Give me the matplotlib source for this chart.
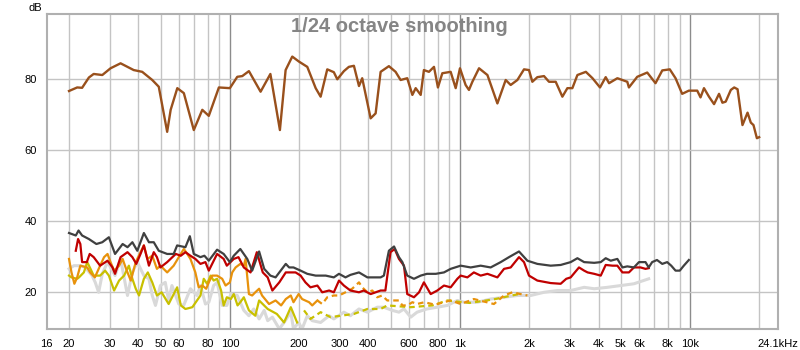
import numpy as np
import matplotlib.pyplot as plt

# 频响曲线 (1/24 倍频程平滑)
brown_f = [20, 21.7, 22.8, 24.4, 25.6, 27.9, 30.3, 33.5, 38.2, 41.6,
           46, 49.1, 53.4, 55.3, 59.1, 63.1, 69.7, 75.9, 81, 89.6,
           100, 107.7, 113.2, 121, 136, 150, 165, 174.7, 186.7, 199.5,
           217, 236, 248, 265, 283, 293, 313, 329, 346, 364,
           376, 409, 430, 452, 491, 525, 552, 590, 621, 642,
           675, 697, 733, 771, 802, 838, 911, 958, 1000, 1058,
           1094, 1132, 1210, 1316, 1454, 1580, 1661, 1776, 1898, 1995,
           2063, 2169, 2318, 2437, 2606, 2786, 2929, 3079, 3238, 3524,
           3766, 4060, 4298, 4444, 4830, 5334, 5422, 5893, 6512, 7075,
           7570, 8162, 8645, 9237, 9877, 10740, 11100, 11490, 12080, 12710,
           13360, 13820, 14280, 15030, 15550, 16080, 16890, 17770, 18360, 18860, 19510, 19960]
brown_db = [76.7, 77.7, 77.6, 80.5, 81.5, 81.2, 83.1, 84.5, 82.6, 82.1,
            79.8, 77.9, 65.2, 71.4, 77.5, 76.1, 65.7, 71.4, 69.7, 77.7,
            77.5, 80.7, 80.9, 82.3, 76.5, 81.5, 65.7, 82.6, 86.4, 85,
            83.5, 77.5, 75.1, 82.8, 82, 80, 82.3, 83.5, 83.8, 78.1,
            80.3, 69, 70.4, 82.1, 83.7, 82.1, 79.8, 80.3, 75.6, 77.5,
            75.6, 82.6, 82.1, 83.5, 77.7, 81.7, 82.1, 77.5, 83.1, 78.4,
            77, 79.3, 83.1, 81.2, 73.2, 79.8, 78.4, 79.8, 82.8, 82.6,
            79.3, 80.6, 80.9, 79.3, 79.3, 75.1, 77.5, 77.5, 81.2, 82.1,
            80.3, 77.7, 80.6, 78.9, 80.3, 79.3, 77.7, 80.7, 81.9, 78.9,
            82.5, 82.8, 80.3, 75.9, 76.8, 76.8, 74.9, 77.5, 75.1, 73,
            75.9, 73.4, 73.7, 77, 77.7, 77.2, 67.1, 70.6, 67.8, 67.1, 63.4, 63.7]

# 总失真 (深灰)
dark_f = [20, 21.4, 22.0, 22.8, 24.4, 26.3, 27.9, 29.8, 31.7, 34.2, 35.9, 37.7, 39.6, 42.3, 44.5,
          46.7, 49.1, 53.4, 57, 59, 64.1, 67, 69.7, 74.5, 77.5, 81, 88, 94, 100, 104,
          111, 119, 125, 134, 141, 150, 158, 175, 181, 189, 203, 217, 236, 261, 283,
          298, 318, 334, 364, 396, 452, 467, 491, 517, 543, 562, 590, 631, 675, 718,
          785, 852, 911, 1007, 1113, 1230, 1359, 1503, 1633, 1805, 1963, 2169, 2478, 2739, 3027,
          3238, 3464, 3830, 4090, 4298, 4520, 4830, 5082, 5334, 5700, 5995, 6400, 6610, 6840, 7180,
          7570, 7950, 8280, 8645, 9020, 9390, 9877]
dark_db = [36.7, 36.0, 37.4, 36, 35, 33.6, 34.1, 35.5, 30.8, 33.6, 32.7, 34.1, 31.7, 36.7, 34.1,
           34.1, 31.7, 30.8, 30.8, 33.2, 32.7, 35.8, 30.8, 29.9, 30.3, 28.9, 32, 30.8, 28.5, 30.3,
           32.2, 29.4, 26.1, 31.5, 26.6, 24.7, 24.2, 28, 27, 27, 26.1, 25.2, 24.7, 24.7, 24.2,
           25.2, 24.2, 24.9, 25.6, 24.2, 24.2, 24.7, 31.7, 32.9, 29.9, 28.5, 24.7, 23.8, 24.7, 25.2,
           25.2, 25.6, 26.6, 27.5, 27, 27.5, 27, 28.5, 29.9, 31.5, 28.9, 28, 27.5, 27.7, 28.5,
           29.6, 28.5, 28.3, 28.5, 29.6, 28.9, 29.4, 27, 27.3, 27, 28.5, 28.5, 27, 28.5, 29.1,
           28, 28.5, 27.5, 26.1, 26.1, 27.5, 29.1]

# 二次谐波 (红)
red_f = [21.4, 21.9, 22.4, 22.8, 23.9, 24.6, 25.6, 27.3, 29.4, 30.9, 31.7, 33.5, 35.9, 37.7, 39.2,
         40.9, 42.3, 44.5, 46.7, 48.2, 49.9, 53.4, 58.2, 61.2, 64.1, 67.4, 70.8, 74.5, 78.3, 81,
         88, 94, 97, 104, 109, 115, 123, 131, 139, 146, 153, 164, 175, 184, 193,
         203, 213, 224, 240, 252, 270, 283, 298, 313, 334, 364, 382, 409, 430, 452,
         474, 499, 520, 543, 571, 590, 631, 664, 697, 746, 797, 852, 911, 974, 1007,
         1077, 1149, 1230, 1316, 1454, 1554, 1661, 1805, 1898, 1995, 2169, 2478, 2739, 2896, 3027,
         3290, 3464, 3585, 3830, 4090, 4298, 4600, 4830, 5082, 5422, 5700, 6090, 6400, 6610]
red_db = [31.7, 35, 33.6, 28.5, 28.5, 30.8, 29.9, 27.5, 28.9, 27, 25.2, 29.9, 31.3, 29.9, 28,
          30.8, 33.2, 27.5, 31.3, 29.9, 27, 28.5, 30.8, 30.3, 31.3, 30.3, 29.4, 28, 28.5, 26.1,
          30.8, 29.4, 27.5, 29.4, 29.9, 27, 25.6, 31.3, 25.6, 24.2, 20.5, 22.8, 25.6, 25.6, 25.6,
          24.7, 22.8, 21.4, 21.9, 20, 20.5, 20, 23.3, 21.9, 20.5, 20, 20.5, 19.5, 20, 20.5,
          20.5, 31.3, 32.2, 29.4, 27.5, 19.5, 18.6, 20, 22.8, 19.5, 20.5, 21.9, 21.4, 23.8, 24.7,
          24.2, 25.6, 24.7, 25.2, 24.2, 26.6, 27, 29.9, 28.5, 24.7, 23.3, 22.6, 22.4, 23.8, 24.2,
          27, 26.1, 25.6, 25.2, 24.7, 27.7, 27.5, 27.5, 25.6, 25.6, 27, 27, 26.6, 26.8]

# 三次谐波 (橙)
orange_f = [20, 20.5, 21.1, 21.7, 22.4, 24, 24.7, 25.9, 27.3, 28.4, 29.4, 30.3, 31.4, 33, 34.2,
            35.4, 37.1, 39, 40.9, 42.3, 43.8, 46, 48.2, 49.9, 53.4, 57, 60, 63.1, 65.3, 67.4,
            70.8, 73.2, 75.9, 78.9, 81, 83.8, 88, 92.6, 95.8, 100, 102.4, 105.9, 111, 115, 117,
            121, 125, 129, 134, 138, 148, 158, 167, 175, 184, 189, 199, 206, 221, 228,
            240, 252, 265, 283, 298, 318, 340, 364, 376, 396, 416, 437, 459, 483, 517,
            543, 562, 590, 621, 651, 700, 780, 850, 911, 1007, 1149, 1404, 1554, 1690, 1834, 1963]
orange_db = [29.4, 25.6, 22.4, 24.2, 27.5, 27, 25.6, 24.2, 27.5, 29.9, 30.8, 28.5, 26.1, 27.5, 29.4,
             26.6, 23.3, 28.5, 31.3, 33.2, 29.4, 30.3, 26.6, 27.5, 25.6, 27.5, 29.9, 32.2, 30.8, 29.4,
             25.6, 21.4, 21.9, 21, 22.8, 24.7, 24.7, 23.8, 21.9, 22.8, 25.6, 27, 28, 27.5, 29.4,
             19.5, 19.1, 20, 21, 19.1, 16.7, 17.7, 16.3, 18.1, 19.1, 17.2, 19.5, 18.1, 17.2, 16.3,
             17.7, 16.7, 18.6, 19.1, 19.1, 20, 21, 22.8, 21.4, 20, 20.5, 18.6, 19.1, 17.7, 17.7,
             17.7, 16.3, 16.3, 17.2, 16.7, 17.2, 16.5, 17.2, 17.7, 16.7, 18.1, 16.7, 19.1, 20, 19.5, 19.1]

# 四次谐波 (黄绿)
yellow_f = [20, 20.5, 21.7, 22.1, 23.2, 24, 24.8, 25.6, 27.3, 28.7, 29.8, 31.4, 33, 34.7, 36.4,
            37.7, 39, 40.3, 42.3, 44, 46, 48.2, 50.5, 54.2, 59, 61.2, 64.1, 68.7, 74.5, 77,
            79.6, 82.5, 85, 88, 91.6, 94, 97, 101, 104, 108, 111, 115, 121, 129, 134,
            146, 160, 172, 184, 196, 210, 224, 248, 274, 303, 346, 396, 452, 483, 611,
            758, 881, 1100, 1400, 1800]
yellow_db = [24.7, 24.2, 23.8, 24.2, 25.6, 28.5, 26.6, 24.7, 24.7, 26.1, 24.7, 20.5, 23.3, 24.7, 27.5,
             23.8, 21, 19.1, 23.8, 25.6, 22.8, 19.1, 20, 16.7, 21.4, 16.3, 15.3, 15.8, 19.1, 23.8,
             22.4, 24.7, 23.3, 23.8, 20.5, 16.3, 18.6, 18.1, 19.5, 16.3, 17.2, 18.6, 14.9, 13.4, 17.7,
             15.3, 13.9, 11.5, 15.8, 11.5, 14.9, 12.5, 14.4, 13, 13.4, 13.9, 15.3, 15.3, 16.3, 15.8,
             16.3, 17.7, 17, 18, 19.5]

# 噪声 (浅灰)
light_f = [20, 21, 22.4, 23.5, 25.2, 26, 26.9, 27.9, 29.4, 30.3, 31.7, 33.5, 35.9, 37.7, 39.6,
           42.3, 44.5, 46, 47.5, 49.9, 52.4, 54.2, 56, 60, 63, 67.4, 72, 74.5, 78.3, 81,
           85, 88, 92.6, 97, 101, 107.7, 115, 121, 127, 134, 141, 146, 153, 164, 172,
           184, 189, 199, 206, 217, 228, 248, 270, 283, 313, 334, 364, 396, 437, 467,
           508, 543, 571, 611, 651, 718, 797, 881, 974, 1041, 1190, 1359, 1554, 1776, 2028,
           2318, 2650, 3027, 3464, 3830, 4370, 5000, 5700, 6610]
light_db = [26.6, 27.5, 27.5, 27, 24.7, 22.8, 20, 25.2, 28.5, 27, 24.7, 29.4, 19.1, 25.6, 28.5,
            24.7, 23.8, 19.1, 16.3, 21.9, 22.8, 17.7, 21.9, 16.7, 16.3, 21, 19.1, 21.9, 16.7, 17.2,
            21.9, 22.8, 16.3, 16.3, 19.5, 19.1, 14.9, 13.4, 15.3, 12.5, 14.9, 12, 13, 9.7, 11.5,
            14.4, 9.7, 11.5, 9.7, 13.4, 12, 11.5, 13.4, 12.5, 14.4, 13.4, 15.3, 14.4, 15.8, 15.8,
            14.9, 14.4, 15.3, 13, 14.4, 15.3, 15.8, 16.3, 17.7, 17.2, 17.2, 18.1, 18.6, 19.1, 19.1,
            20, 20.5, 20.5, 21.4, 21, 21.4, 21.9, 22.4, 23.8]

xtick_vals = [16, 20, 30, 40, 50, 60, 80, 100, 200, 300, 400, 600, 800,
              1000, 2000, 3000, 4000, 5000, 6000, 8000, 10000, 24100]
xtick_labels = ['16', '20', '30', '40', '50', '60', '80', '100', '200', '300', '400', '600', '800',
                '1k', '2k', '3k', '4k', '5k', '6k', '8k', '10k', '24.1kHz']
ytick_vals = [20, 40, 60, 80]

plt.rcParams['font.family'] = ['Liberation Sans', 'DejaVu Sans']

fig = plt.figure(figsize=(8, 3.5), dpi=100)
ax = fig.add_axes([0.0584, 0.06, 0.9141, 0.9])
ax.set_xscale('log')
ax.set_xlim(16, 24100)
ax.set_ylim(9.66, 98.39)

# 网格线
minor = [20, 30, 40, 50, 60, 70, 80, 90,
         200, 300, 400, 500, 600, 700, 800, 900,
         2000, 3000, 4000, 5000, 6000, 7000, 8000, 9000, 20000]
for f in minor:
    ax.axvline(f, color='#c4c4c4', lw=1, zorder=0)
for f in [100, 1000, 10000]:
    ax.axvline(f, color='#8c8c8c', lw=1, zorder=0)
for y in ytick_vals:
    ax.axhline(y, color='#c4c4c4', lw=1, zorder=0)


def plot_split(fx, dbx, color, cut, lw=1.6, z=2):
    fx = np.array(fx)
    dbx = np.array(dbx)
    lo = fx <= cut
    hi = fx >= cut
    ax.plot(fx[lo], dbx[lo], color=color, lw=lw, zorder=z)
    ax.plot(fx[hi], dbx[hi], color=color, lw=lw, zorder=z, dashes=(2.5, 1.8))


ax.plot(light_f, light_db, color='#d9d9d9', lw=2.2, zorder=1)
plot_split(yellow_f, yellow_db, '#c8c000', 200, z=2)
plot_split(orange_f, orange_db, '#e8920c', 240, z=3)
ax.plot(red_f, red_db, color='#c00000', lw=1.6, zorder=4)
ax.plot(dark_f, dark_db, color='#404040', lw=1.6, zorder=5)
ax.plot(brown_f, brown_db, color='#99501c', lw=1.7, zorder=6)

ax.set_xticks(xtick_vals)
ax.set_xticklabels(xtick_labels)
ax.xaxis.set_minor_locator(plt.NullLocator())
ax.set_yticks(ytick_vals)
ax.tick_params(length=0, labelsize=8, pad=7)

for s in ax.spines.values():
    s.set_color('#b0b0b0')
    s.set_linewidth(1.5)

fig.text(0.035, 0.992, 'dB', fontsize=8, va='top', ha='left')
fig.text(0.499, 0.924, '1/24 octave smoothing', fontsize=14.5, fontweight='bold',
         color='#858585', ha='center', va='center')

fig.savefig('out.png', dpi=100)
